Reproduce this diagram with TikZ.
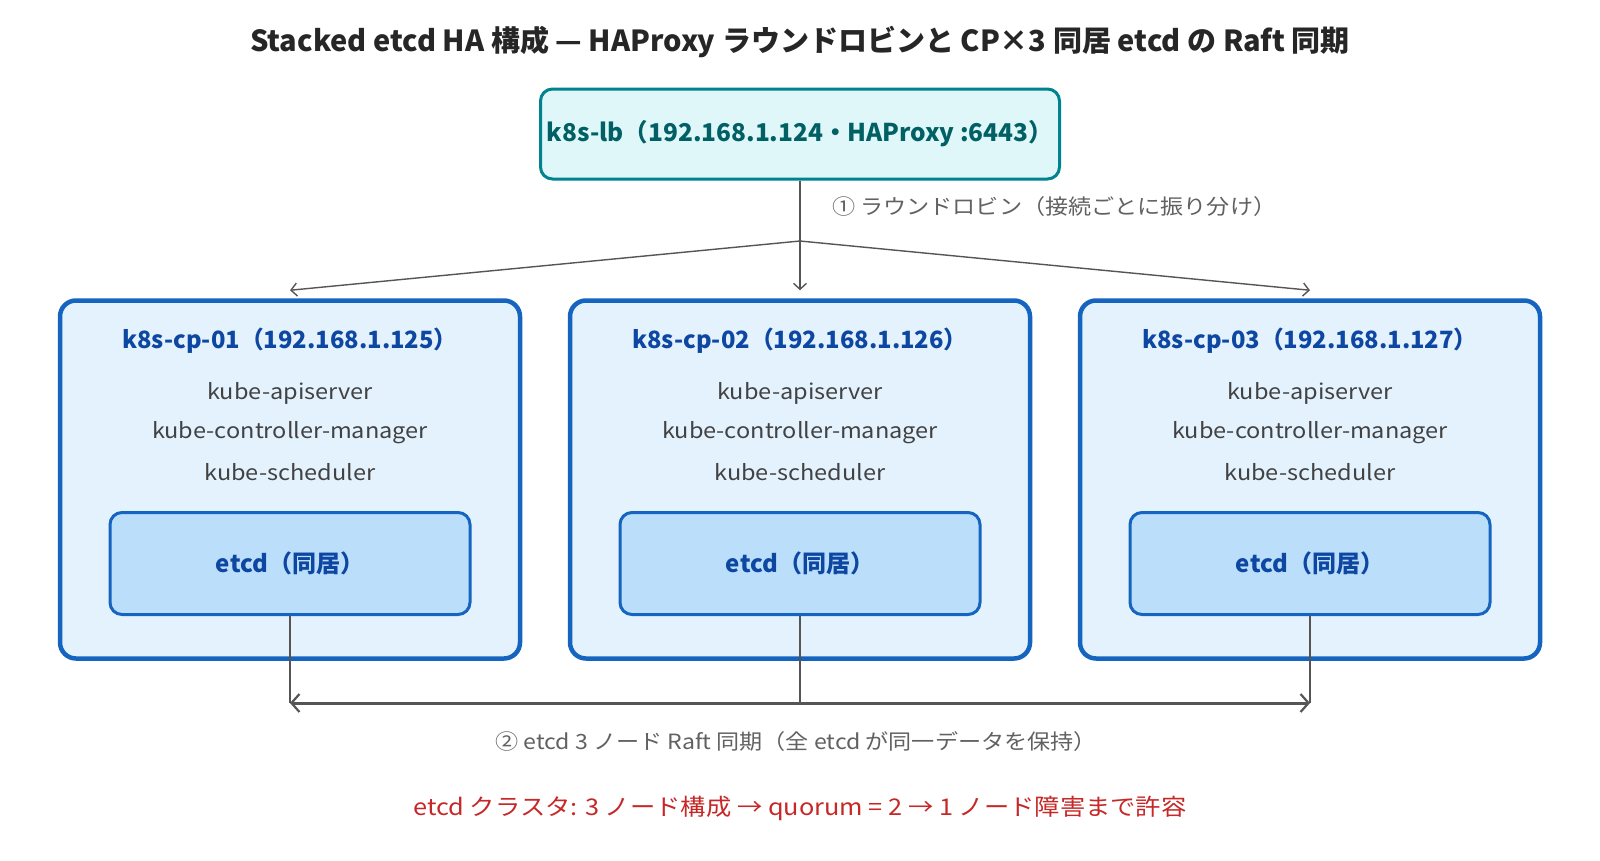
\documentclass[tikz,border=0pt]{standalone}
\usepackage{fontspec}
\setmainfont{Noto Sans CJK JP}
\newfontfamily\widefont[FakeStretch=1.1]{Noto Sans CJK JP}
\usetikzlibrary{arrows.meta}
\definecolor{lbfill}{HTML}{E0F7FA}
\definecolor{lbdraw}{HTML}{00838F}
\definecolor{lbtext}{HTML}{006064}
\definecolor{cpfill}{HTML}{E3F2FD}
\definecolor{cpdraw}{HTML}{1565C0}
\definecolor{cptext}{HTML}{0D47A1}
\definecolor{etfill}{HTML}{BBDEFB}
\definecolor{comptext}{HTML}{424242}
\definecolor{linec}{HTML}{555555}
\definecolor{labc}{HTML}{616161}
\definecolor{redc}{HTML}{C62828}
\begin{document}
\begin{tikzpicture}[x=1pt,y=-1pt,
  lbbox/.style={draw=lbdraw,line width=3pt,fill=lbfill,rounded corners=12pt,minimum width=519pt,minimum height=90pt,inner sep=0pt,text=lbtext,font=\fontsize{24.5}{29}\selectfont\bfseries},
  cpbox/.style={draw=cpdraw,line width=4.5pt,fill=cpfill,rounded corners=16pt,minimum width=460pt,minimum height=358pt,inner sep=0pt},
  etbox/.style={draw=cpdraw,line width=3pt,fill=etfill,rounded corners=12pt,minimum width=360pt,minimum height=102pt,inner sep=0pt,text=cptext,font=\fontsize{24}{28}\selectfont\bfseries},
  cptitle/.style={text=cptext,font=\fontsize{23.8}{28}\selectfont\bfseries,inner sep=0pt},
  comp/.style={text=comptext,font=\widefont\fontsize{21.4}{25}\selectfont,inner sep=0pt},
  lab/.style={text=labc,font=\widefont\fontsize{21}{25}\selectfont,inner sep=0pt},
  conn/.style={draw=linec,line width=1.4pt},
  arr/.style={conn,-{Straight Barb[length=6pt,width=13pt,line width=1.4pt]}},
  syncarr/.style={draw=linec,line width=3pt,{Straight Barb[length=8pt,width=18pt,line width=2.2pt]}-{Straight Barb[length=8pt,width=18pt,line width=2.2pt]}}
]
\useasboundingbox[fill=white] (0,0) rectangle (1600,860);

\node[inner sep=0pt,font=\fontsize{29}{34}\selectfont\bfseries,text=black!85] (title) at (800,42) {Stacked etcd HA 構成 — HAProxy ラウンドロビンと CP×3 同居 etcd の Raft 同期};

\node[lbbox] (lb) at (800,134) {k8s-lb（192.168.1.124・HAProxy :6443）};

\foreach \i/\x/\ip in {1/290/125,2/800/126,3/1310/127}{
  \node[cpbox] (cp\i) at (\x,479.5) {};
  \node[cptitle] (cpt\i) at (\x,340.5) {k8s-cp-0\i（192.168.1.\ip）};
  \node[comp] (api\i) at (\x,393.5) {kube-apiserver};
  \node[comp] (cm\i) at (\x,433) {kube-controller-manager};
  \node[comp] (sch\i) at (\x,472) {kube-scheduler};
  \node[etbox] (et\i) at (\x,563.5) {etcd（同居）};
  \coordinate (b\i) at (\x,703);
}

\coordinate (fork) at (800,241);
\draw[conn] (lb.south) -- (fork);
\draw[arr] (fork) -- ([yshift=8pt]cp1.north);
\draw[arr] (fork) -- ([yshift=8pt]cp2.north);
\draw[arr] (fork) -- ([yshift=8pt]cp3.north);
\node[lab,anchor=west] (rr) at (832,207) {① ラウンドロビン（接続ごとに振り分け）};

\draw[conn] (et1.south) -- (b1);
\draw[conn] (et2.south) -- (b2);
\draw[conn] (et3.south) -- (b3);
\draw[syncarr] (b1) -- (b3);
\node[lab] (sync) at (796,742) {② etcd 3 ノード Raft 同期（全 etcd が同一データを保持）};

\node[inner sep=0pt,text=redc,font=\widefont\fontsize{23}{27}\selectfont] (quorum) at (800,808) {etcd クラスタ: 3 ノード構成 → quorum = 2 → 1 ノード障害まで許容};
\end{tikzpicture}
\end{document}
